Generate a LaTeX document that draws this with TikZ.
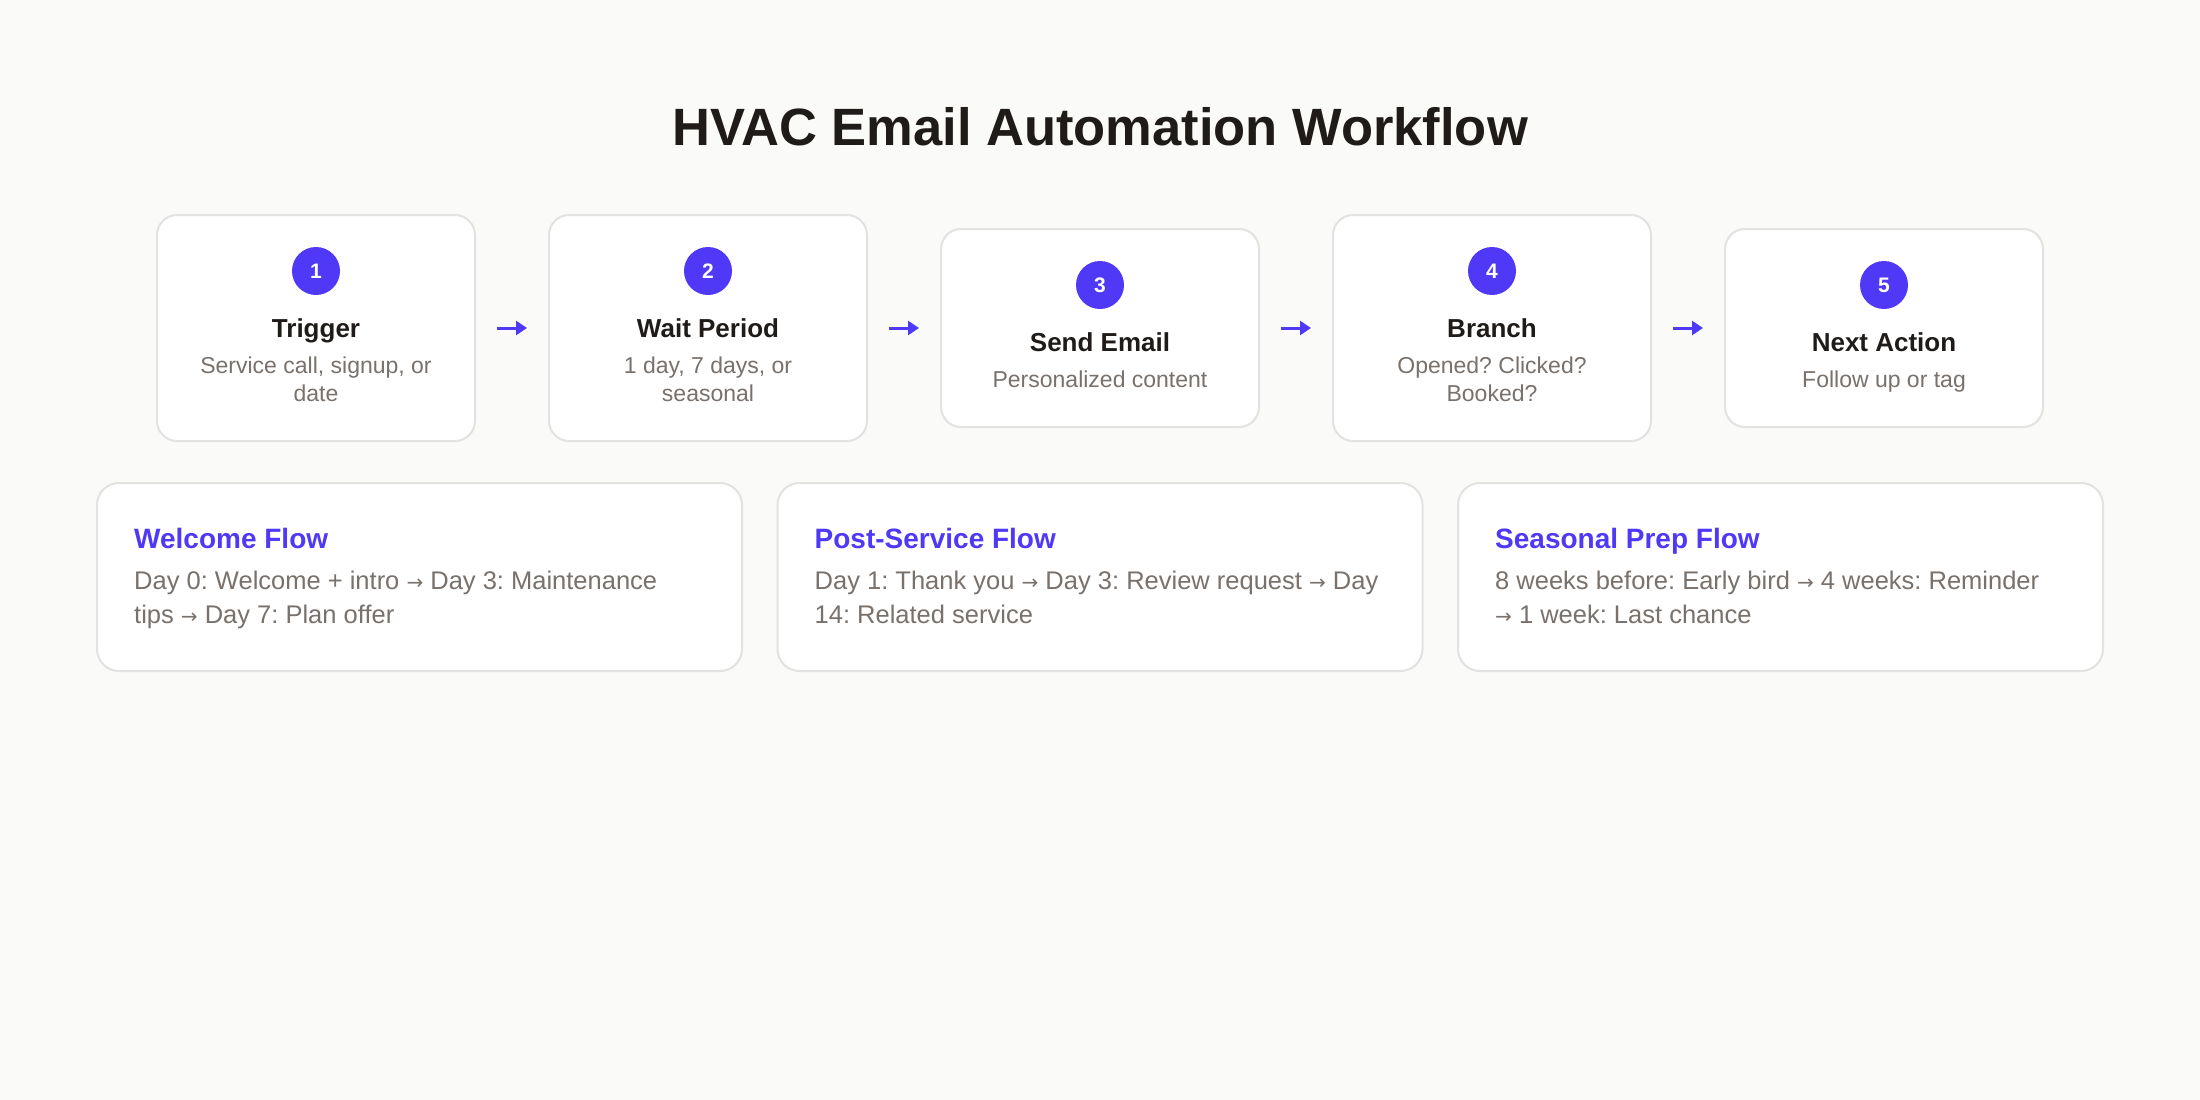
\documentclass[tikz,border=0pt]{standalone}
\usepackage{fontspec}
\setmainfont{Liberation Sans}
\newfontfamily\arrowfont{DejaVu Sans}
\usetikzlibrary{arrows.meta,calc}
\definecolor{bgc}{HTML}{FAFAF9}
\definecolor{bordc}{HTML}{E4E2E0}
\definecolor{ink}{HTML}{1F1B19}
\definecolor{muted}{HTML}{78716C}
\definecolor{accent}{HTML}{4F39F6}
\newcommand{\rarr}{{\arrowfont\fontsize{20}{20}\selectfont →}}
\frenchspacing
\begin{document}
\begin{tikzpicture}[x=1pt,y=-1pt,
  stepbox/.style={draw=bordc, line width=2pt, fill=white, rounded corners=20pt, minimum width=318pt, inner sep=0pt},
  cardbox/.style={draw=bordc, line width=2pt, fill=white, rounded corners=22pt, minimum width=645pt, minimum height=188pt, inner sep=0pt},
  num/.style={circle, fill=accent, minimum size=48pt, inner sep=0pt, text=white, font=\bfseries\fontsize{21}{24}\selectfont},
  steptitle/.style={anchor=base, inner sep=0pt, text=ink, font=\bfseries\fontsize{26}{30}\selectfont},
  stepdesc/.style={anchor=base, inner sep=0pt, text=muted, font=\fontsize{23}{28}\selectfont},
  cardtitle/.style={anchor=base west, inner sep=0pt, text=accent, font=\bfseries\fontsize{28}{30}\selectfont},
  cardtext/.style={anchor=base west, inner sep=0pt, text=muted, font=\fontsize{25.5}{34}\selectfont},
  flowarrow/.style={draw=accent, line width=3pt, -{Triangle[length=11pt,width=14pt]}, shorten <=21pt, shorten >=21pt}
]
\fill[bgc] (0,0) rectangle (2200,1100);
\useasboundingbox (0,0) rectangle (2200,1100);

\node[anchor=base, inner sep=0pt, text=ink, font=\bfseries\fontsize{52.5}{60}\selectfont] (title) at (1100,145) {HVAC Email Automation Workflow};

% step boxes
\node[stepbox, minimum height=226pt] (b1) at (316,328) {};
\node[stepbox, minimum height=226pt] (b2) at (708,328) {};
\node[stepbox, minimum height=198pt] (b3) at (1100,328) {};
\node[stepbox, minimum height=226pt] (b4) at (1492,328) {};
\node[stepbox, minimum height=198pt] (b5) at (1884,328) {};

\node[num] (n1) at ($(b1.north)+(0,57)$) {1};
\node[steptitle] (t1) at ($(b1.north)+(0,123)$) {Trigger};
\node[stepdesc] (d1a) at ($(b1.north)+(0,159)$) {Service call, signup, or};
\node[stepdesc] (d1b) at ($(b1.north)+(0,187)$) {date};

\node[num] (n2) at ($(b2.north)+(0,57)$) {2};
\node[steptitle] (t2) at ($(b2.north)+(0,123)$) {Wait Period};
\node[stepdesc] (d2a) at ($(b2.north)+(0,159)$) {1 day, 7 days, or};
\node[stepdesc] (d2b) at ($(b2.north)+(0,187)$) {seasonal};

\node[num] (n3) at ($(b3.north)+(0,57)$) {3};
\node[steptitle] (t3) at ($(b3.north)+(0,123)$) {Send Email};
\node[stepdesc] (d3a) at ($(b3.north)+(0,159)$) {Personalized content};

\node[num] (n4) at ($(b4.north)+(0,57)$) {4};
\node[steptitle] (t4) at ($(b4.north)+(0,123)$) {Branch};
\node[stepdesc] (d4a) at ($(b4.north)+(0,159)$) {Opened? Clicked?};
\node[stepdesc] (d4b) at ($(b4.north)+(0,187)$) {Booked?};

\node[num] (n5) at ($(b5.north)+(0,57)$) {5};
\node[steptitle] (t5) at ($(b5.north)+(0,123)$) {Next Action};
\node[stepdesc] (d5a) at ($(b5.north)+(0,159)$) {Follow up or tag};

\draw[flowarrow] (b1.east) -- (b2.west);
\draw[flowarrow] (b2.east) -- (b3.west);
\draw[flowarrow] (b3.east) -- (b4.west);
\draw[flowarrow] (b4.east) -- (b5.west);

% flow cards
\node[cardbox] (c1) at (419.5,577) {};
\node[cardbox] (c2) at (1100,577) {};
\node[cardbox] (c3) at (1780.5,577) {};

\node[cardtitle] (ct1) at ($(c1.north west)+(38,66)$) {Welcome Flow};
\node[cardtext] (cx1a) at ($(c1.north west)+(38,107)$) {Day 0: Welcome + intro \rarr{} Day 3: Maintenance};
\node[cardtext] (cx1b) at ($(c1.north west)+(38,141)$) {tips \rarr{} Day 7: Plan offer};

\node[cardtitle] (ct2) at ($(c2.north west)+(38,66)$) {Post-Service Flow};
\node[cardtext] (cx2a) at ($(c2.north west)+(38,107)$) {Day 1: Thank you \rarr{} Day 3: Review request \rarr{} Day};
\node[cardtext] (cx2b) at ($(c2.north west)+(38,141)$) {14: Related service};

\node[cardtitle] (ct3) at ($(c3.north west)+(38,66)$) {Seasonal Prep Flow};
\node[cardtext] (cx3a) at ($(c3.north west)+(38,107)$) {8 weeks before: Early bird \rarr{} 4 weeks: Reminder};
\node[cardtext] (cx3b) at ($(c3.north west)+(38,141)$) {\rarr{} 1 week: Last chance};
\end{tikzpicture}
\end{document}
